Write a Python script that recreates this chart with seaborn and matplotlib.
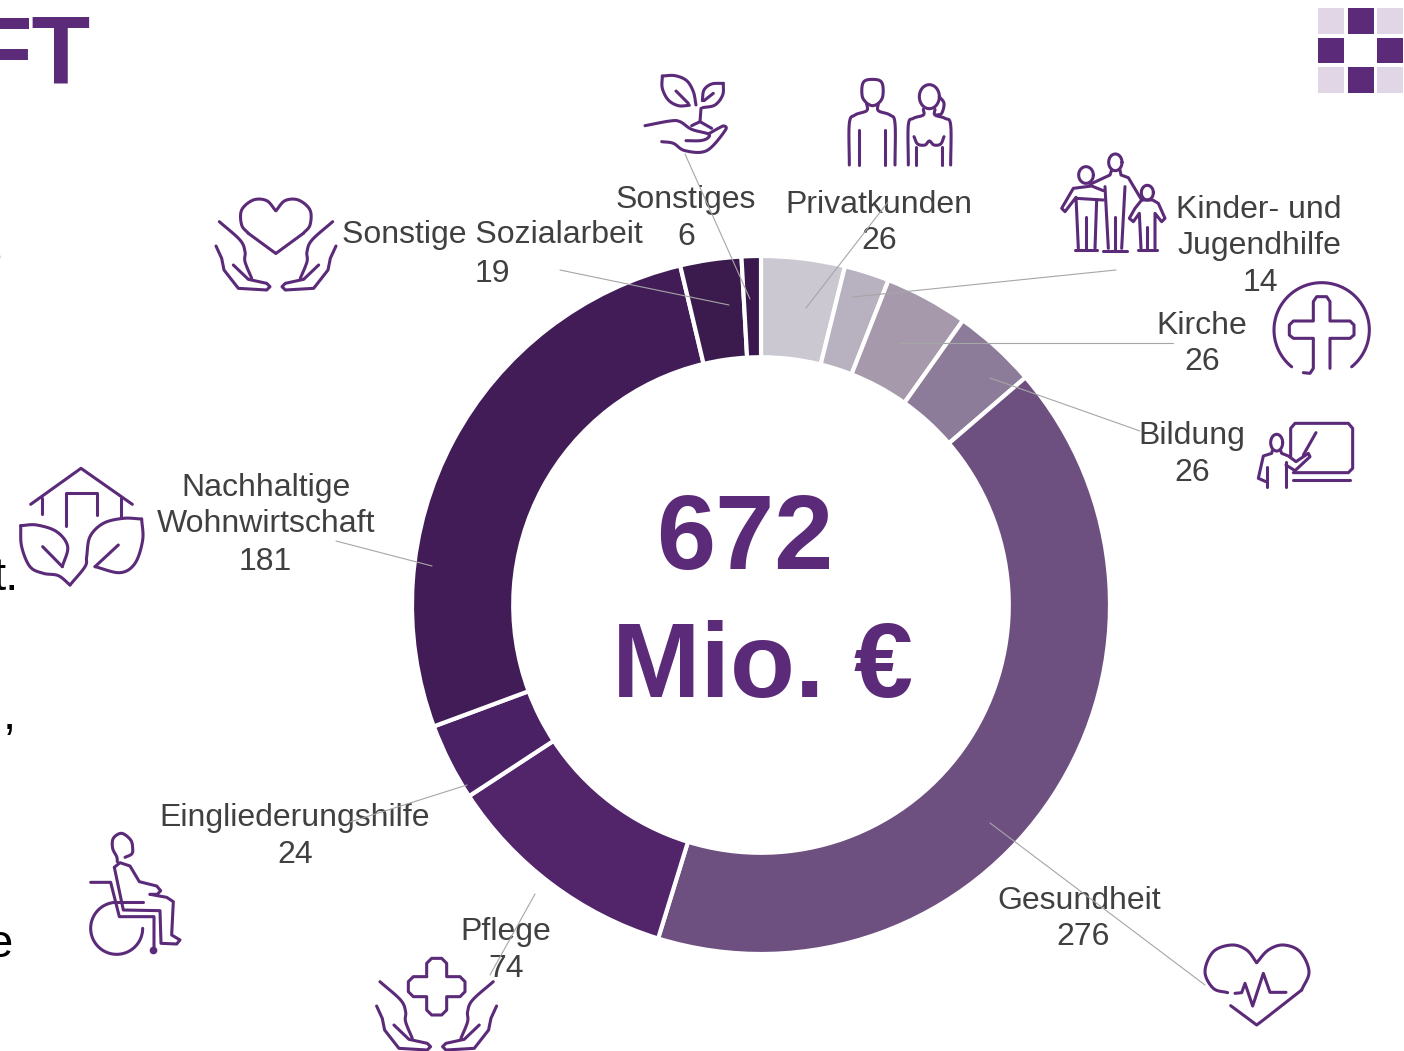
import numpy as np
import matplotlib
matplotlib.use("Agg")
import matplotlib.pyplot as plt
from matplotlib.patches import Rectangle
import seaborn as sns

# ---- data ----
categories = ["Privatkunden", "Kinder- und\nJugendhilfe", "Kirche", "Bildung", "Gesundheit",
              "Pflege", "Eingliederungshilfe", "Nachhaltige\nWohnwirtschaft",
              "Sonstige Sozialarbeit", "Sonstiges"]
values = [26, 14, 26, 26, 276, 74, 24, 181, 19, 6]
colors = ["#CCC8D2", "#B8B1C0", "#A599AB", "#8D7C99", "#6E5080",
          "#52246A", "#4A2164", "#421C57", "#3B1A4E", "#3A174C"]
total_label = "672"
unit_label = "Mio. €"

W, H = 1404, 1051
PURPLE = "#5B2A78"
TEXT = "#404040"
sns.set_theme(style="white")
plt.rcParams["font.family"] = ["Liberation Sans", "DejaVu Sans"]

fig = plt.figure(figsize=(W / 100, H / 100), dpi=100, facecolor="white")

# ---- donut ----
cx, cy, R = 761, 605, 349
pie_ax = fig.add_axes([(cx - R) / W, 1 - (cy + R) / H, 2 * R / W, 2 * R / H])
pie_ax.pie(values, colors=sns.color_palette(colors), startangle=90, counterclock=False, radius=1,
           wedgeprops=dict(width=0.29, edgecolor="white", linewidth=3.0))
pie_ax.set_xlim(-1, 1)
pie_ax.set_ylim(-1, 1)
pie_ax.axis("off")

# ---- overlay in pixel coordinates ----
ax = fig.add_axes([0, 0, 1, 1], facecolor="none")
ax.set_xlim(0, W)
ax.set_ylim(H, 0)
ax.axis("off")

# leader lines
leaders = [((806, 308), (888, 202)), ((853, 297), (1116, 270)), ((900, 343), (1173, 343)),
           ((990, 378), (1140, 431)), ((990, 823), (1205, 985)), ((535, 894), (490, 975)),
           ((467, 785), (350, 822)), ((432, 566), (336, 541)), ((729, 305), (560, 270)),
           ((750, 299), (685, 154))]

# label positions: centre x and baseline y per line
label_pos = [[(879, 213), (879, 249)],
             [(1259, 218), (1259, 254), (1260, 291)],
             [(1202, 334), (1202, 370)],
             [(1192, 444), (1192, 481)],
             [(1079, 909), (1083, 945)],
             [(506, 940), (506, 977)],
             [(295, 826), (295, 863)],
             [(266, 496), (266, 532), (265, 570)],
             [(492, 243), (492, 282)],
             [(686, 208), (686, 245)]]
for name, val, pos in zip(categories, values, label_pos):
    for line, (x, y) in zip(name.split("\n") + [str(val)], pos):
        ax.text(x, y, line, ha="center", va="baseline", fontsize=23, color=TEXT)
for a, b in leaders:
    ax.plot([a[0], b[0]], [a[1], b[1]], color="#A6A6A6", lw=0.8, zorder=5)

ax.text(745, 569, total_label, ha="center", va="baseline", fontsize=76.5, fontweight="bold", color=PURPLE)
ax.text(763, 697, unit_label, ha="center", va="baseline", fontsize=76.5, fontweight="bold", color=PURPLE)

# clipped slide text at edges
ax.text(91, 84, "FT", ha="right", va="baseline", fontsize=69, fontweight="bold", color=PURPLE)
for x, y, s in [(2, 270, "e"), (19, 590, "t."), (16, 729, ","), (13, 957, "e")]:
    ax.text(x, y, s, ha="right", va="baseline", fontsize=34, color="black")

# logo
for i, x in enumerate([1318, 1347.5, 1377]):
    for j, y in enumerate([8, 37.5, 67]):
        if i == 1 and j == 1:
            continue
        c = PURPLE if (i + j) % 2 else "#E0D6E6"
        ax.add_patch(Rectangle((x, y), 26, 25.5, facecolor=c, edgecolor="none"))


# ---- icon helpers (zoomed-crop coordinates -> pixels) ----
def catmull(pts, n=12):
    p = np.array(pts, float)
    p = np.vstack([2 * p[0] - p[1], p, 2 * p[-1] - p[-2]])
    out = []
    t = np.linspace(0, 1, n, endpoint=False)[:, None]
    for i in range(1, len(p) - 2):
        a, b, c, d = p[i - 1], p[i], p[i + 1], p[i + 2]
        out.append(0.5 * (2 * b + (c - a) * t + (2 * a - 5 * b + 4 * c - d) * t ** 2
                          + (3 * b - a - 3 * c + d) * t ** 3))
    out.append(p[-2][None, :])
    return np.vstack(out)


def draw(pts, ox, oy, smooth=False, lw=2.2, mirror=None, dx=0, dy=0):
    q = catmull(pts) if smooth else np.array(pts, float)
    if mirror is not None:
        q = q.copy()
        q[:, 0] = 2 * mirror - q[:, 0]
    ax.plot(ox + q[:, 0] / 3 + dx, oy + q[:, 1] / 3 + dy, color=PURPLE, lw=lw,
            solid_capstyle="round", solid_joinstyle="round", zorder=6)


def ell(cx_, cy_, w, h, ox, oy, a0=0, a1=360, lw=2.2):
    t = np.radians(np.linspace(a0, a1, 80))
    ax.plot(ox + (cx_ + w / 2 * np.cos(t)) / 3, oy + (cy_ + h / 2 * np.sin(t)) / 3,
            color=PURPLE, lw=lw, solid_capstyle="round", zorder=6)


# sprout in hand
o = (620, 60)
draw([(228, 135), (220, 95), (200, 62), (165, 47), (127, 48)], *o, smooth=True)
draw([(127, 48), (127, 85), (145, 120), (175, 137), (208, 136)], *o, smooth=True)
draw([(168, 93), (205, 130)], *o)
draw([(310, 70), (275, 72), (252, 90), (247, 122)], *o, smooth=True)
draw([(310, 70), (308, 105), (285, 135), (248, 143)], *o, smooth=True)
draw([(280, 100), (252, 122)], *o)
draw([(243, 145), (240, 185), (215, 197)], *o)
draw([(240, 185), (275, 205)], *o)
draw([(75, 197), (150, 183), (180, 185), (215, 208), (265, 222), (262, 235), (240, 242), (198, 242)], *o, smooth=True)
draw([(125, 245), (160, 250), (195, 272), (260, 272), (315, 212), (312, 198), (295, 205), (265, 222)], *o, smooth=True)

# people
draw([(740, 130), (727, 110), (727, 75), (740, 60), (775, 60), (788, 75), (788, 110), (775, 130), (757, 137), (740, 130)], *o, smooth=True)
draw([(688, 315), (688, 190), (705, 165), (740, 152), (740, 130)], *o, smooth=True)
draw([(825, 315), (825, 190), (810, 165), (775, 152), (775, 130)], *o, smooth=True)
draw([(717, 210), (717, 315)], *o)
draw([(795, 210), (795, 315)], *o)
ell(928, 110, 60, 72, *o)
draw([(958, 110), (972, 130), (965, 160), (950, 165)], *o, smooth=True)
draw([(865, 315), (865, 195), (880, 175), (910, 165), (910, 148)], *o, smooth=True)
draw([(992, 315), (992, 195), (975, 175), (945, 165), (945, 148)], *o, smooth=True)
draw([(882, 230), (893, 252), (915, 255), (928, 243), (942, 255), (962, 252), (972, 230)], *o, smooth=True)
draw([(888, 262), (888, 315)], *o)
draw([(967, 262), (967, 315)], *o)

# family
o = (1040, 0)
ell(226, 487, 40, 50, *o)
ell(138, 525, 44, 50, *o)
ell(322, 578, 36, 44, *o)
draw([(150, 553), (210, 525), (215, 510)], *o)
draw([(240, 510), (243, 525), (265, 533), (305, 600)], *o)
draw([(195, 560), (205, 745)], *o)
draw([(255, 560), (245, 745)], *o)
draw([(226, 650), (226, 750)], *o)
draw([(190, 752), (262, 752)], *o)
draw([(190, 572), (155, 558), (100, 565), (65, 625), (75, 635), (108, 592), (115, 745)], *o)
draw([(108, 595), (190, 600)], *o)
draw([(170, 600), (165, 745)], *o)
draw([(138, 650), (138, 745)], *o)
draw([(105, 750), (172, 750)], *o)
draw([(305, 600), (285, 625), (268, 655), (280, 665), (298, 640), (303, 745)], *o)
draw([(305, 600), (338, 600), (355, 610), (375, 655), (365, 665), (345, 640), (345, 745)], *o)
draw([(322, 680), (322, 745)], *o)
draw([(295, 750), (350, 750)], *o)

# church cross
ell(845, 990, 286, 284, *o, a0=-231, a1=51)
draw([(790, 1118), (810, 1120), (820, 1105), (820, 1015), (760, 1015), (748, 1005), (748, 975), (760, 963),
      (820, 963), (820, 905), (830, 890), (860, 890), (870, 905), (870, 963), (930, 963), (942, 975),
      (942, 1005), (930, 1015), (870, 1015), (870, 1105)], *o)

# teacher
draw([(752, 1370), (752, 1285), (765, 1270), (925, 1270), (938, 1285), (938, 1405), (925, 1418), (760, 1418)], *o)
draw([(760, 1440), (930, 1440)], *o)
draw([(828, 1298), (790, 1365)], *o)
ell(710, 1328, 36, 50, *o)
draw([(697, 1352), (695, 1360), (670, 1368), (655, 1435), (678, 1445)], *o)
draw([(680, 1400), (680, 1462)], *o)
draw([(738, 1385), (738, 1462)], *o)
draw([(722, 1352), (725, 1360), (745, 1368), (768, 1385), (805, 1360), (810, 1370), (765, 1412), (738, 1395)], *o)

# heart in hands, and hands again for care icon
o = (0, 180)
heart = [(827, 92), (800, 62), (760, 60), (725, 90), (725, 135), (745, 160)]
for m in (None, 827.5):
    draw(heart, *o, smooth=True, mirror=m)
    draw([(745, 160), (820, 215), (827, 220)], *o, mirror=m)
hand_a = [(658, 125), (720, 180), (735, 215), (735, 245), (755, 295)]
hand_b = [(648, 198), (665, 235), (672, 270), (715, 325), (800, 330), (810, 320), (800, 310), (745, 298), (700, 255)]
for m in (None, 828):
    for dx, dy in ((0, 0), (160.6, 760)):
        draw(hand_a, *o, smooth=True, mirror=m, dx=dx, dy=dy)
        draw(hand_b, *o, mirror=m, dx=dx, dy=dy)

# house and leaves
draw([(92, 973), (243, 865), (397, 973)], *o)
draw([(127, 955), (127, 1003)], *o)
draw([(362, 955), (362, 1015)], *o)
draw([(197, 1038), (197, 940), (290, 940), (290, 1005)], *o)
draw([(62, 1037), (110, 1035), (170, 1055), (203, 1100), (187, 1160)], *o, smooth=True)
draw([(62, 1037), (65, 1100), (90, 1160), (130, 1180), (175, 1187), (210, 1215)], *o, smooth=True)
draw([(128, 1100), (187, 1160)], *o)
draw([(425, 1017), (370, 1015), (310, 1030), (270, 1070), (260, 1130), (255, 1160), (210, 1215)], *o, smooth=True)
draw([(425, 1017), (428, 1080), (405, 1150), (360, 1178), (285, 1160)], *o, smooth=True)
draw([(355, 1095), (285, 1160)], *o)

# wheelchair
o = (0, 780)
draw([(375, 232), (395, 222), (398, 205), (392, 180), (365, 160), (340, 175), (338, 205), (350, 230), (352, 245)], *o, smooth=True)
draw([(343, 262), (370, 390), (480, 392), (483, 490), (530, 492), (540, 480), (515, 465), (520, 365), (500, 352), (450, 343)], *o)
draw([(343, 262), (360, 248), (390, 258), (418, 305), (470, 318), (482, 332), (472, 343), (450, 343)], *o)
draw([(272, 307), (332, 307), (358, 410), (462, 410), (462, 510)], *o)
draw([(345, 365), (430, 365)], *o)
ell(350, 445, 156, 156, *o, a0=0, a1=268)
ax.plot(460 / 3, 780 + 510 / 3, "o", color=PURPLE, ms=4.5, zorder=6)

# plus over hands
draw([(1280, 590), (1280, 550), (1295, 535), (1325, 535), (1340, 550), (1340, 590), (1380, 590), (1395, 605),
      (1395, 635), (1380, 650), (1340, 650), (1340, 690), (1325, 705), (1295, 705), (1280, 690), (1280, 650),
      (1240, 650), (1225, 635), (1225, 605), (1240, 590), (1280, 590)], *o)

# heartbeat heart
o = (1180, 920)
draw([(143, 218), (100, 205), (75, 155), (100, 95), (155, 75), (200, 90), (230, 128)], *o, smooth=True)
draw([(230, 128), (265, 90), (310, 75), (360, 95), (387, 155), (365, 210)], *o, smooth=True)
draw([(365, 210), (250, 300), (230, 315), (210, 300), (152, 257)], *o)
draw([(165, 220), (185, 218), (195, 190), (218, 258), (250, 160), (270, 217), (318, 217)], *o)

fig.savefig("out.png", dpi=100)
